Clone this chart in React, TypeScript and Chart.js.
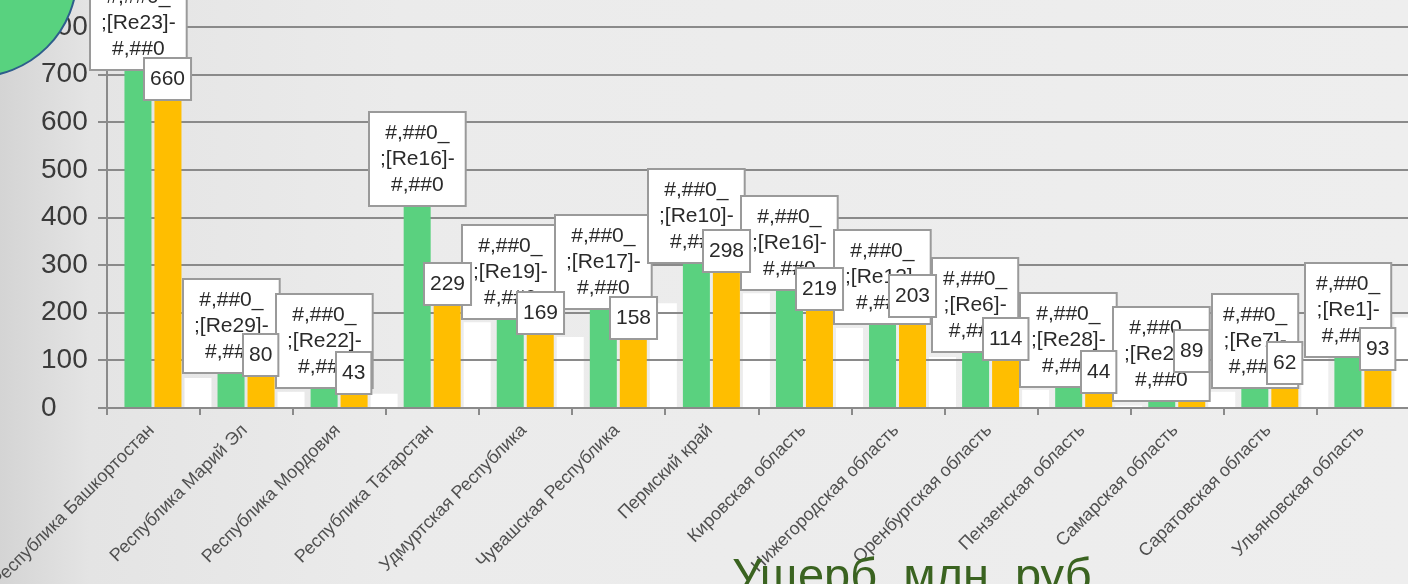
import { useEffect, useRef } from 'react';
import { Chart, registerables } from 'chart.js';

Chart.register(...registerables);

// ---------- data ----------
const categories = [
  'Республика Башкортостан',
  'Республика Марий Эл',
  'Республика Мордовия',
  'Республика Татарстан',
  'Удмуртская Республика',
  'Чувашская Республика',
  'Пермский край',
  'Кировская область',
  'Нижегородская область',
  'Оренбургская область',
  'Пензенская область',
  'Самарская область',
  'Саратовская область',
  'Ульяновская область',
];
const seriesGreen = [710, 74, 42, 425, 186, 207, 305, 248, 176, 117, 45, 15, 42, 108];
const seriesOrange = [660, 80, 43, 229, 169, 158, 298, 219, 203, 114, 44, 89, 62, 93];
const seriesWhite = [63, 34, 30, 180, 149, 220, 241, 168, 107, 38, 5, 34, 130, 190];
const formatCodes = [23, 29, 22, 16, 19, 17, 10, 16, 12, 6, 28, 20, 7, 1];
const yMin = 0;
const yMax = 800;
const yStep = 100;
const footerText = 'Ущерб, млн. руб.';

// ---------- layout / style ----------
const CANVAS_W = 1440;
const CANVAS_H = 584;
const PLOT_LEFT = 107;
const PLOT_RIGHT = 1410;
const PLOT_TOP = 27;
const PLOT_BOTTOM = 408;
const Y_LABEL_LEFT = 41;
const BAR_SHIFT = 0.155; // group offset inside each category slot
const GRID = '#8a8a8a';
const FONT = '"Liberation Sans", Arial, sans-serif';
const GREEN = '#5ad17f';
const ORANGE = '#ffbe00';

const boxLabelsPlugin = {
  id: 'boxLabels',
  afterDatasetsDraw(chart: any) {
    const ctx = chart.ctx as CanvasRenderingContext2D;
    ctx.save();
    ctx.font = `21px ${FONT}`;
    ctx.textAlign = 'center';
    ctx.textBaseline = 'middle';
    const lineH = 26;
    const padY = 8;
    const drawBox = (cx: number, bottom: number, lines: string[], padX: number) => {
      const w = Math.max(...lines.map((l) => ctx.measureText(l).width)) + padX * 2;
      const h = lines.length * lineH + padY * 2;
      const left = Math.round(cx - w / 2);
      const top = Math.round(bottom - h);
      ctx.fillStyle = '#ffffff';
      ctx.fillRect(left, top, w, h);
      ctx.strokeStyle = '#9a9a9a';
      ctx.lineWidth = 2;
      ctx.strokeRect(left, top, w, h);
      ctx.fillStyle = '#2a2a2a';
      lines.forEach((l, k) => ctx.fillText(l, left + w / 2, top + padY + lineH * (k + 0.5)));
    };
    const gMeta = chart.getDatasetMeta(0);
    gMeta.data.forEach((bar: any, i: number) => {
      drawBox(bar.x, bar.y, ['#,##0_', `;[Re${formatCodes[i]}]-`, '#,##0'], 11);
    });
    const oMeta = chart.getDatasetMeta(1);
    oMeta.data.forEach((bar: any, i: number) => {
      drawBox(bar.x, bar.y + 6, [String(seriesOrange[i])], 6);
    });
    ctx.restore();
  },
};

const gridOverWhitePlugin = {
  id: 'gridOverWhite',
  afterDatasetDraw(chart: any, args: any) {
    if (args.index !== 2) return;
    const { ctx, chartArea } = chart;
    const y = chart.scales.y;
    ctx.save();
    ctx.beginPath();
    ctx.rect(chartArea.left, chartArea.top, chartArea.right - chartArea.left, chartArea.bottom - chartArea.top);
    ctx.clip();
    ctx.strokeStyle = GRID;
    ctx.lineWidth = 2;
    y.ticks.forEach((t: any) => {
      const py = Math.round(y.getPixelForValue(t.value));
      ctx.beginPath();
      ctx.moveTo(chartArea.left, py);
      ctx.lineTo(chartArea.right, py);
      ctx.stroke();
    });
    ctx.restore();
  },
};

export default function App() {
  const ref = useRef<HTMLCanvasElement | null>(null);

  useEffect(() => {
    if (!ref.current) return;
    const toPoints = (vals: number[]) => vals.map((v, i) => ({ x: i + 0.5 + BAR_SHIFT, y: v }));
    const chart = new Chart(ref.current, {
      type: 'bar',
      data: {
        datasets: [
          { label: 'A', data: toPoints(seriesGreen), backgroundColor: GREEN, order: 1 } as any,
          { label: 'B', data: toPoints(seriesOrange), backgroundColor: ORANGE, order: 1 } as any,
          { label: 'C', data: toPoints(seriesWhite), backgroundColor: '#ffffff', order: 2 } as any,
        ],
      },
      options: {
        responsive: false,
        animation: false,
        events: [],
        barPercentage: 0.9,
        categoryPercentage: 0.967,
        layout: {
          padding: { left: Y_LABEL_LEFT, right: CANVAS_W - PLOT_RIGHT, top: PLOT_TOP, bottom: 0 },
        },
        plugins: { legend: { display: false }, tooltip: { enabled: false } },
        scales: {
          x: {
            type: 'linear',
            offset: false,
            min: 0,
            max: categories.length,
            grid: { offset: false, drawOnChartArea: false, drawTicks: true, tickLength: 7, color: GRID, lineWidth: 2 },
            border: { display: true, color: GRID, width: 2 },
            ticks: {
              stepSize: 1,
              autoSkip: false,
              minRotation: 45,
              maxRotation: 45,
              padding: 5,
              labelOffset: (PLOT_RIGHT - PLOT_LEFT) / categories.length / 2 - 2,
              color: '#505050',
              font: { family: FONT, size: 18 },
              callback: (v: any) => categories[Number(v)] ?? '',
            },
            afterFit: (scale: any) => {
              scale.height = CANVAS_H - PLOT_BOTTOM;
              scale.paddingLeft = 0;
              scale.paddingRight = 0;
            },
          },
          y: {
            min: yMin,
            max: yMax,
            grid: { color: GRID, lineWidth: 2, tickLength: 9 },
            border: { display: true, color: GRID, width: 2 },
            ticks: {
              stepSize: yStep,
              crossAlign: 'far',
              color: '#3a3a3a',
              font: { family: FONT, size: 28 },
            },
            afterFit: (scale: any) => {
              scale.width = PLOT_LEFT - Y_LABEL_LEFT;
            },
          },
        },
      } as any,
      plugins: [gridOverWhitePlugin, boxLabelsPlugin],
    });
    return () => chart.destroy();
  }, []);

  return (
    <div
      style={{
        position: 'fixed',
        left: 0,
        top: 0,
        width: 1408,
        height: 584,
        overflow: 'hidden',
        background: 'linear-gradient(90deg, #d4d4d4 0px, #e4e4e4 90px, #ebebeb 400px, #eeeeee 100%)',
      }}
    >
      <canvas
        ref={ref}
        width={CANVAS_W}
        height={CANVAS_H}
        style={{ position: 'absolute', left: 0, top: 0, width: CANVAS_W, height: CANVAS_H }}
      />
      <div
        style={{
          position: 'absolute',
          left: -128,
          top: -128,
          width: 206,
          height: 206,
          borderRadius: '50%',
          background: '#58d27f',
          border: '2px solid #2e5e8c',
          boxSizing: 'border-box',
        }}
      />
      <div
        style={{
          position: 'absolute',
          left: 732,
          top: 551,
          font: `47px ${FONT}`,
          lineHeight: '47px',
          color: '#3a6320',
          whiteSpace: 'nowrap',
        }}
      >
        {footerText}
      </div>
    </div>
  );
}
